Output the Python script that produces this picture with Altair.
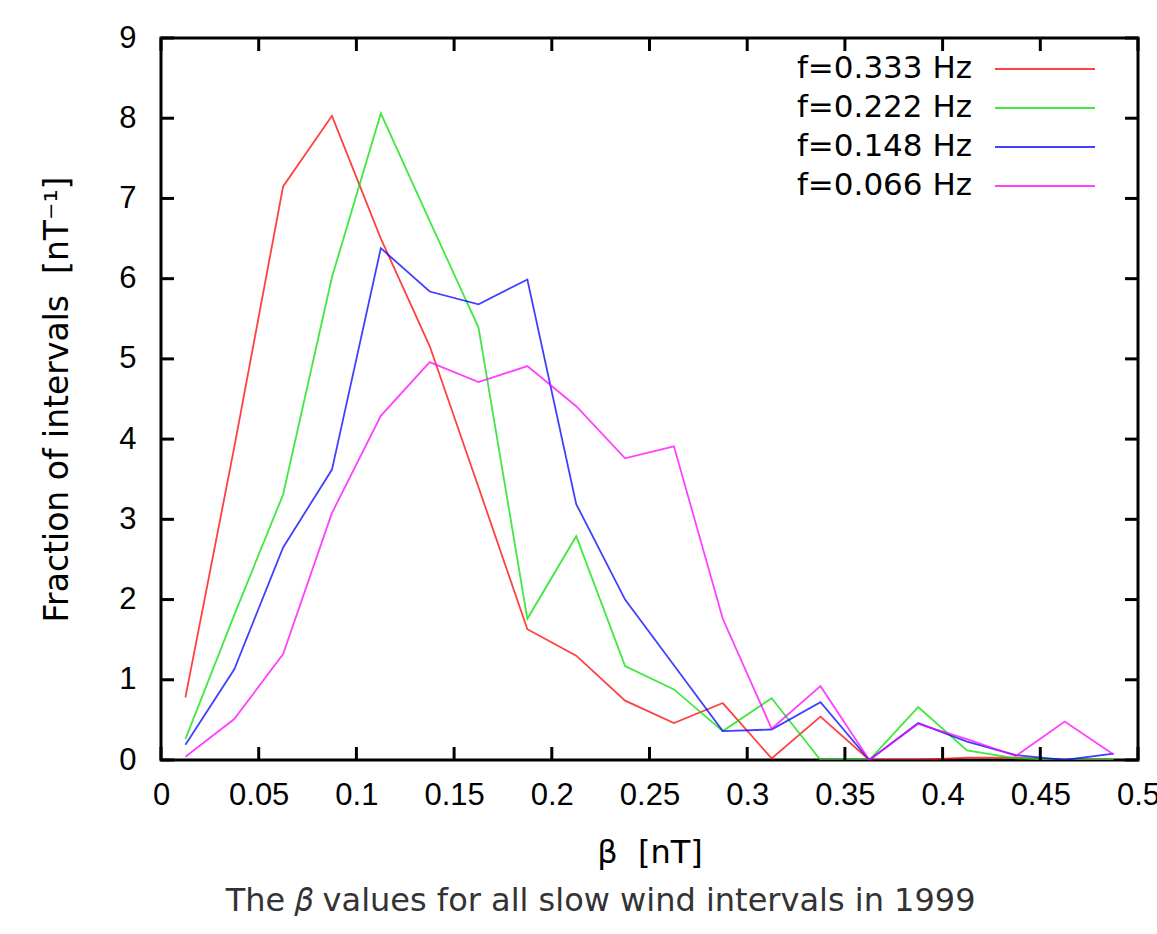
import altair as alt
import pandas as pd

# Bin centres of the beta histogram [nT]
beta_bins = [0.0125, 0.0375, 0.0625, 0.0875, 0.1125, 0.1375, 0.1625, 0.1875,
             0.2125, 0.2375, 0.2625, 0.2875, 0.3125, 0.3375, 0.3625, 0.3875,
             0.4125, 0.4375, 0.4625, 0.4875]

# Fraction of intervals per bin [nT^-1], one list per frequency
f_0333 = [0.78, 3.9, 7.15, 8.03, 6.5, 5.16, 3.4, 1.63, 1.30, 0.74,
          0.46, 0.71, 0.02, 0.54, 0.0, 0.0, 0.03, 0.03, 0.0, 0.0]
f_0222 = [0.26, 1.81, 3.31, 6.02, 8.06, 6.72, 5.39, 1.76, 2.79, 1.17,
          0.88, 0.36, 0.77, 0.0, 0.0, 0.66, 0.12, 0.02, 0.0, 0.0]
f_0148 = [0.19, 1.13, 2.65, 3.62, 6.38, 5.84, 5.68, 5.99, 3.19, 2.0,
          1.18, 0.36, 0.38, 0.72, 0.0, 0.46, 0.23, 0.06, 0.0, 0.08]
f_0066 = [0.04, 0.51, 1.32, 3.08, 4.29, 4.96, 4.71, 4.91, 4.41, 3.76,
          3.91, 1.76, 0.39, 0.92, 0.0, 0.45, 0.26, 0.05, 0.48, 0.07]

series = ["f=0.333 Hz", "f=0.222 Hz", "f=0.148 Hz", "f=0.066 Hz"]
colors = ["#ff0000", "#00e000", "#0000ff", "#ff00ff"]

x_ticks = [0, 0.05, 0.1, 0.15, 0.2, 0.25, 0.3, 0.35, 0.4, 0.45, 0.5]
y_ticks = [0, 1, 2, 3, 4, 5, 6, 7, 8, 9]

rows = []
for name, vals in zip(series, [f_0333, f_0222, f_0148, f_0066]):
    for b, v in zip(beta_bins, vals):
        rows.append({"beta": b, "frac": v, "series": name})
df = pd.DataFrame(rows)

W, H = 977, 722
TICK = 13
LABEL_FONT = "Liberation Sans"
TEXT_FONT = "DejaVu Sans"
NBSP = "\u00a0"

xscale = alt.Scale(domain=[0, 0.5], nice=False, zero=False)
yscale = alt.Scale(domain=[0, 9], nice=False)

x_axis = alt.Axis(values=x_ticks, format="~g", title="β" + NBSP * 2 + "[nT]",
                  titleFont=TEXT_FONT, titleFontSize=32, titleFontWeight="normal",
                  titlePadding=27, labelPadding=20, labelFont=LABEL_FONT, labelFontSize=31,
                  labelFlush=False, labelColor="black", titleColor="black",
                  grid=False, domain=False, ticks=False)
y_axis = alt.Axis(values=y_ticks, format="d",
                  title="Fraction of intervals" + NBSP * 2 + "[nT⁻¹]",
                  titleFont=TEXT_FONT, titleFontSize=33, titleFontWeight="normal",
                  titlePadding=44, labelPadding=25, labelFont=LABEL_FONT, labelFontSize=31,
                  labelColor="black", titleColor="black",
                  grid=False, domain=False, ticks=False)

lines = alt.Chart(df).mark_line(strokeWidth=1.8, opacity=0.75, clip=True).encode(
    x=alt.X("beta:Q", scale=xscale, axis=x_axis),
    y=alt.Y("frac:Q", scale=yscale, axis=y_axis),
    color=alt.Color("series:N", scale=alt.Scale(domain=series, range=colors), legend=None),
)

# Inward tick marks on all four sides of the frame
xt = pd.DataFrame({"v": x_ticks})
yt = pd.DataFrame({"v": y_ticks})
tick_style = dict(color="black", strokeWidth=3)
x_bottom = alt.Chart(xt).mark_rule(**tick_style).encode(
    x=alt.X("v:Q", scale=xscale, axis=x_axis), y=alt.value(H), y2=alt.value(H - TICK))
x_top = alt.Chart(xt).mark_rule(**tick_style).encode(
    x=alt.X("v:Q", scale=xscale, axis=x_axis), y=alt.value(0), y2=alt.value(TICK))
y_left = alt.Chart(yt).mark_rule(**tick_style).encode(
    y=alt.Y("v:Q", scale=yscale, axis=y_axis), x=alt.value(0), x2=alt.value(TICK))
y_right = alt.Chart(yt).mark_rule(**tick_style).encode(
    y=alt.Y("v:Q", scale=yscale, axis=y_axis), x=alt.value(W), x2=alt.value(W - TICK))

# Key in the upper right corner: label on the left, line sample on the right
leg = pd.DataFrame({"label": series, "color": colors, "row": range(len(series))})
leg["ypx"] = 31 + 39 * leg["row"]
leg_text = alt.Chart(leg).mark_text(align="right", baseline="middle", font=TEXT_FONT,
                                    fontSize=31, color="black").encode(
    x=alt.value(811), y=alt.Y("ypx:Q", scale=None), text="label:N")
leg_line = alt.Chart(leg).mark_rule(strokeWidth=1.8, opacity=0.75).encode(
    x=alt.value(834), x2=alt.value(934), y=alt.Y("ypx:Q", scale=None),
    color=alt.Color("color:N", scale=None))

chart = alt.layer(lines, x_bottom, x_top, y_left, y_right, leg_text, leg_line).properties(
    width=W, height=H,
    autosize=alt.AutoSizeParams(type="none"),
    padding={"left": 161, "top": 38, "right": 19, "bottom": 174},
    background="white",
    title=alt.TitleParams(text="The 𝛽 values for all slow wind intervals in 1999",
                          orient="bottom", anchor="middle", frame="bounds",
                          font=TEXT_FONT, fontSize=32, fontWeight="normal",
                          color="#333333", offset=18),
).configure_view(stroke="black", strokeWidth=3)

chart.save("out.html", embed_options={"renderer": "svg", "actions": False})
